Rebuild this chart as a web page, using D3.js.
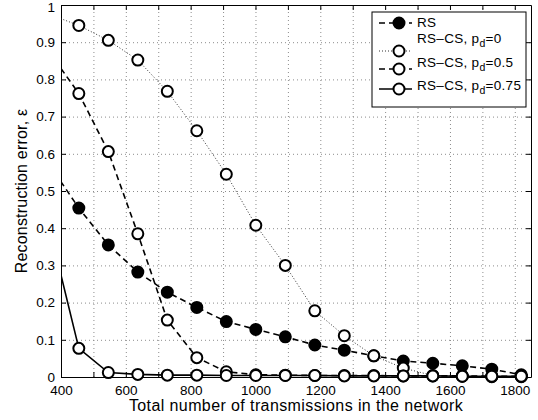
<!DOCTYPE html>
<html>
<head>
<meta charset="utf-8">
<script src="https://cdn.jsdelivr.net/npm/d3@7"></script>
<style>
  body { margin: 0; background: #fff; }
  svg { display: block; font-family: 'Liberation Sans', Arial, Helvetica, sans-serif; }
  .grid line { stroke: #8c8c8c; stroke-dasharray: 1,3; }
  .grid path { display: none; }
  .frame path, .frame line { stroke: #000; }
</style>
</head>
<body>
<div class="container"></div>
<script>
// Data. x = number of transmissions (step 91).
const transmissions = [364, 455, 546, 637, 728, 819, 910, 1001, 1092, 1183, 1274, 1365, 1456, 1547, 1638, 1729, 1820];
const rsError      = [0.571, 0.454, 0.355, 0.282, 0.228, 0.187, 0.149, 0.128, 0.108, 0.086, 0.072, 0.057, 0.043, 0.037, 0.030, 0.021, 0.006];
const rsCsPd0      = [0.975, 0.945, 0.905, 0.852, 0.768, 0.662, 0.545, 0.408, 0.300, 0.178, 0.111, 0.057, 0.024, 0.004, 0.002, 0.001, 0.001];
const rsCsPd05     = [0.873, 0.762, 0.606, 0.385, 0.153, 0.052, 0.014, 0.006, 0.005, 0.004, 0.004, 0.004, 0.003, 0.003, 0.003, 0.002, 0.002];
const rsCsPd075    = [0.403, 0.077, 0.012, 0.007, 0.005, 0.005, 0.004, 0.004, 0.004, 0.004, 0.003, 0.003, 0.003, 0.003, 0.002, 0.002, 0.002];
const seriesNames  = ['RS', 'RS\u2013CS, p_d=0', 'RS\u2013CS, p_d=0.5', 'RS\u2013CS, p_d=0.75'];
const xTicks = [400, 500, 600, 700, 800, 900, 1000, 1100, 1200, 1300, 1400, 1500, 1600, 1700, 1800];
const yTicks = [0, 0.1, 0.2, 0.3, 0.4, 0.5, 0.6, 0.7, 0.8, 0.9, 1];

// Sizes
const width = 538;
const height = 420;
const margin = { top: 5, right: 7, bottom: 43, left: 61 };

const svg = d3.select('.container')
  .append('svg')
  .attr('width', width)
  .attr('height', height);

// Scales
const xScale = d3.scaleLinear()
  .domain([400, 1850])
  .range([margin.left, width - margin.right]);

const yScale = d3.scaleLinear()
  .domain([0, 1])
  .range([height - margin.bottom, margin.top]);

const plotW = width - margin.left - margin.right;
const plotH = height - margin.top - margin.bottom;

// Clip for the lines
svg.append('clipPath')
  .attr('id', 'plot-clip')
  .append('rect')
  .attr('x', margin.left)
  .attr('y', margin.top)
  .attr('width', plotW)
  .attr('height', plotH);

// Dotted grid
svg.append('g')
  .attr('class', 'grid')
  .attr('transform', `translate(0, ${height - margin.bottom})`)
  .call(d3.axisBottom(xScale).tickValues(xTicks.slice(1)).tickSize(-plotH).tickFormat(''));

svg.append('g')
  .attr('class', 'grid')
  .attr('transform', `translate(${margin.left}, 0)`)
  .call(d3.axisLeft(yScale).tickValues(yTicks.slice(1, -1)).tickSize(-plotW).tickFormat(''));

// Axes with inward ticks on all four sides
svg.append('g')
  .attr('class', 'frame')
  .attr('transform', `translate(0, ${height - margin.bottom})`)
  .call(d3.axisBottom(xScale)
    .tickValues(xTicks)
    .tickSizeInner(-5)
    .tickSizeOuter(0)
    .tickPadding(8)
    .tickFormat(d => (d % 200 === 0 ? d : '')));

svg.append('g')
  .attr('class', 'frame')
  .attr('transform', `translate(0, ${margin.top})`)
  .call(d3.axisTop(xScale).tickValues(xTicks).tickSizeInner(-5).tickSizeOuter(0).tickFormat(''));

const leftAxis = svg.append('g')
  .attr('class', 'frame')
  .attr('transform', `translate(${margin.left}, 0)`)
  .call(d3.axisLeft(yScale)
    .tickValues(yTicks)
    .tickSizeInner(-5)
    .tickSizeOuter(0)
    .tickPadding(6)
    .tickFormat(d => d));

// keep the top label "1" inside the picture
leftAxis.selectAll('.tick text')
  .filter(d => d === 1)
  .attr('dy', '0.45em');

svg.append('g')
  .attr('class', 'frame')
  .attr('transform', `translate(${width - margin.right}, 0)`)
  .call(d3.axisRight(yScale).tickValues(yTicks).tickSizeInner(-5).tickSizeOuter(0).tickFormat(''));

svg.selectAll('.frame text')
  .style('font-size', '13.5px')
  .style('font-family', "'Liberation Sans', Arial, sans-serif")
  .attr('fill', '#000');

// Series styles
const series = [
  { values: rsError,   dash: '6,4', width: 1.6, filled: true,  color: '#000' },
  { values: rsCsPd0,   dash: '1,2', width: 1,   filled: false, color: '#333' },
  { values: rsCsPd05,  dash: '6,4', width: 1.6, filled: false, color: '#000' },
  { values: rsCsPd075, dash: null,  width: 1.6, filled: false, color: '#000' }
];

const line = d3.line()
  .x((d, i) => xScale(transmissions[i]))
  .y(d => yScale(d));

series.forEach((s) => {
  const g = svg.append('g');

  g.append('path')
    .datum(s.values)
    .attr('d', line)
    .attr('clip-path', 'url(#plot-clip)')
    .attr('fill', 'none')
    .attr('stroke', s.color)
    .attr('stroke-width', s.width)
    .attr('stroke-dasharray', s.dash);

  // markers only where x lies inside the axis
  g.selectAll('circle')
    .data(s.values.map((v, i) => [transmissions[i], v]).filter(p => p[0] >= 400))
    .enter()
    .append('circle')
    .attr('cx', d => xScale(d[0]))
    .attr('cy', d => yScale(d[1]))
    .attr('r', 5.5)
    .attr('fill', s.filled ? '#000' : '#fff')
    .attr('stroke', '#000')
    .attr('stroke-width', 2);
});

// Axis titles
svg.append('text')
  .text('Total number of transmissions in the network')
  .attr('x', (margin.left + width - margin.right) / 2)
  .attr('y', 411)
  .attr('text-anchor', 'middle')
  .style('font-size', '16px')
  .style('letter-spacing', '0.4px');

svg.append('text')
  .text('Reconstruction error, \u03b5')
  .attr('transform', `translate(27, ${(margin.top + height - margin.bottom) / 2}) rotate(-90)`)
  .attr('text-anchor', 'middle')
  .style('font-size', '16px')
  .style('letter-spacing', '0.2px');

// Legend
const legend = svg.append('g');
legend.append('rect')
  .attr('x', 372)
  .attr('y', 12)
  .attr('width', 154)
  .attr('height', 95)
  .attr('fill', '#fff')
  .attr('stroke', '#000')
  .attr('stroke-width', 1);

const markY = [23, 51, 69, 89];
const textY = [27, 43, 67, 90];

series.forEach((s, i) => {
  legend.append('line')
    .attr('x1', 379)
    .attr('x2', 412)
    .attr('y1', markY[i])
    .attr('y2', markY[i])
    .attr('stroke', s.color)
    .attr('stroke-width', s.width)
    .attr('stroke-dasharray', s.dash);

  legend.append('circle')
    .attr('cx', 399)
    .attr('cy', markY[i])
    .attr('r', 5.5)
    .attr('fill', s.filled ? '#000' : '#fff')
    .attr('stroke', '#000')
    .attr('stroke-width', 2);

  const parts = seriesNames[i].split('_d');
  const t = legend.append('text')
    .attr('x', 417)
    .attr('y', textY[i])
    .style('font-size', '13.5px')
    .style('letter-spacing', '0.3px');
  t.append('tspan').text(parts[0]);
  if (parts.length > 1) {
    t.append('tspan').text('d').attr('dy', 4).style('font-size', '10.5px');
    t.append('tspan').text(parts[1]).attr('dy', -4);
  }
});
</script>
</body>
</html>
